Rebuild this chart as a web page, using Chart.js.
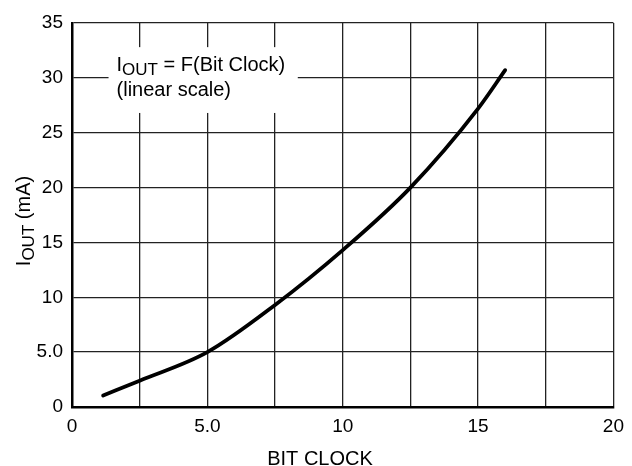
<!DOCTYPE html>
<html>
<head>
<meta charset="utf-8">
<script src="https://cdn.jsdelivr.net/npm/chart.js@4.4.1/dist/chart.umd.min.js"></script>
<style>
    html, body { margin: 0; padding: 0; background: #fff; }
    canvas { display: block; }
</style>
</head>
<body>
<canvas id="ioutChart" width="632" height="466"></canvas>
<script>
// --- Data ---
const bitClock = [1.15, 2.5, 5, 7.5, 10, 12.5, 15, 16];
const ioutMA = [1.05, 2.4, 5.0, 9.3, 14.3, 20.0, 27.2, 30.7];

// tick labels (grid every 2.5 on x, labels only every 5)
const xTickLabels = ['0', '', '5.0', '', '10', '', '15', '', '20'];
const yTickLabels = ['0', '5.0', '10', '15', '20', '25', '30', '35'];

const FONT = "'Liberation Sans', Arial, sans-serif";

// draws "I" + subscript "OUT" + rest of the text
function drawSubText(ctx, x, y, main, sub, rest, size) {
    ctx.font = `${size}px ${FONT}`;
    ctx.fillText(main, x, y);
    x += ctx.measureText(main).width;
    ctx.font = `${Math.round(size * 0.85)}px ${FONT}`;
    ctx.fillText(sub, x, y + size * 0.18);
    x += ctx.measureText(sub).width;
    ctx.font = `${size}px ${FONT}`;
    ctx.fillText(rest, x, y);
}

// --- Titles and the note box ---
const textPlugin = {
    id: 'textPlugin',
    beforeDatasetsDraw(chart) {
        const ctx = chart.ctx;
        const xs = chart.scales.x;
        const ys = chart.scales.y;
        ctx.save();
        // white box behind the note, hides the grid
        const bx0 = xs.getPixelForValue(1.35), bx1 = xs.getPixelForValue(8.34);
        const by0 = ys.getPixelForValue(32.8), by1 = ys.getPixelForValue(26.8);
        ctx.fillStyle = '#fff';
        ctx.fillRect(bx0, by0, bx1 - bx0, by1 - by0);
        ctx.fillStyle = '#000';
        ctx.textBaseline = 'alphabetic';
        ctx.textAlign = 'left';
        drawSubText(ctx, bx0 + 8, by0 + 24, 'I', 'OUT', ' = F(Bit Clock)', 20);
        ctx.font = `20px ${FONT}`;
        ctx.fillText('(linear scale)', bx0 + 8, by0 + 49);
        ctx.restore();
    },
    afterDraw(chart) {
        const ctx = chart.ctx;
        const area = chart.chartArea;
        ctx.save();
        ctx.fillStyle = '#000';
        ctx.textBaseline = 'alphabetic';
        // x axis title
        ctx.textAlign = 'center';
        ctx.font = `20px ${FONT}`;
        ctx.fillText('BIT CLOCK', chart.width / 2 + 4, chart.height - 1);
        // y axis title, rotated
        ctx.textAlign = 'left';
        ctx.font = `20px ${FONT}`;
        const w = ctx.measureText('I').width;
        ctx.font = `${Math.round(20 * 0.85)}px ${FONT}`;
        const wSub = ctx.measureText('OUT').width;
        ctx.font = `20px ${FONT}`;
        const total = w + wSub + ctx.measureText(' (mA)').width;
        const midY = (area.top + area.bottom) / 2 + 6;
        ctx.translate(30, midY + total / 2);
        ctx.rotate(-Math.PI / 2);
        drawSubText(ctx, 0, 0, 'I', 'OUT', ' (mA)', 20);
        ctx.restore();
    }
};

// --- Chart ---
const ctx = document.getElementById('ioutChart').getContext('2d');
new Chart(ctx, {
    type: 'line',
    data: {
        datasets: [{
            data: bitClock.map((x, i) => ({ x: x, y: ioutMA[i] })),
            borderColor: '#000',
            borderWidth: 3.8,
            borderCapStyle: 'round',
            pointRadius: 0,
            fill: false,
            cubicInterpolationMode: 'monotone'
        }]
    },
    options: {
        responsive: false,
        animation: false,
        layout: { padding: { left: 0, top: 23, right: 13, bottom: 0 } },
        plugins: {
            legend: { display: false },
            tooltip: { enabled: false }
        },
        scales: {
            x: {
                type: 'linear',
                min: 0,
                max: 20,
                afterFit(scale) { scale.height = 59; },
                ticks: {
                    stepSize: 2.5,
                    autoSkip: false,
                    maxRotation: 0,
                    padding: 8,
                    color: '#000',
                    font: { family: FONT, size: 19 },
                    callback: (v, i) => xTickLabels[i]
                },
                grid: { color: '#222', lineWidth: 1.3, drawTicks: false },
                border: { color: '#000', width: 2.5 }
            },
            y: {
                min: 0,
                max: 35,
                afterFit(scale) { scale.width = 72; },
                ticks: {
                    stepSize: 5,
                    padding: 9,
                    color: '#000',
                    font: { family: FONT, size: 19 },
                    callback: (v, i) => yTickLabels[i]
                },
                grid: { color: '#222', lineWidth: 1.3, drawTicks: false },
                border: { color: '#000', width: 2.5 }
            }
        }
    },
    plugins: [textPlugin]
});
</script>
</body>
</html>
